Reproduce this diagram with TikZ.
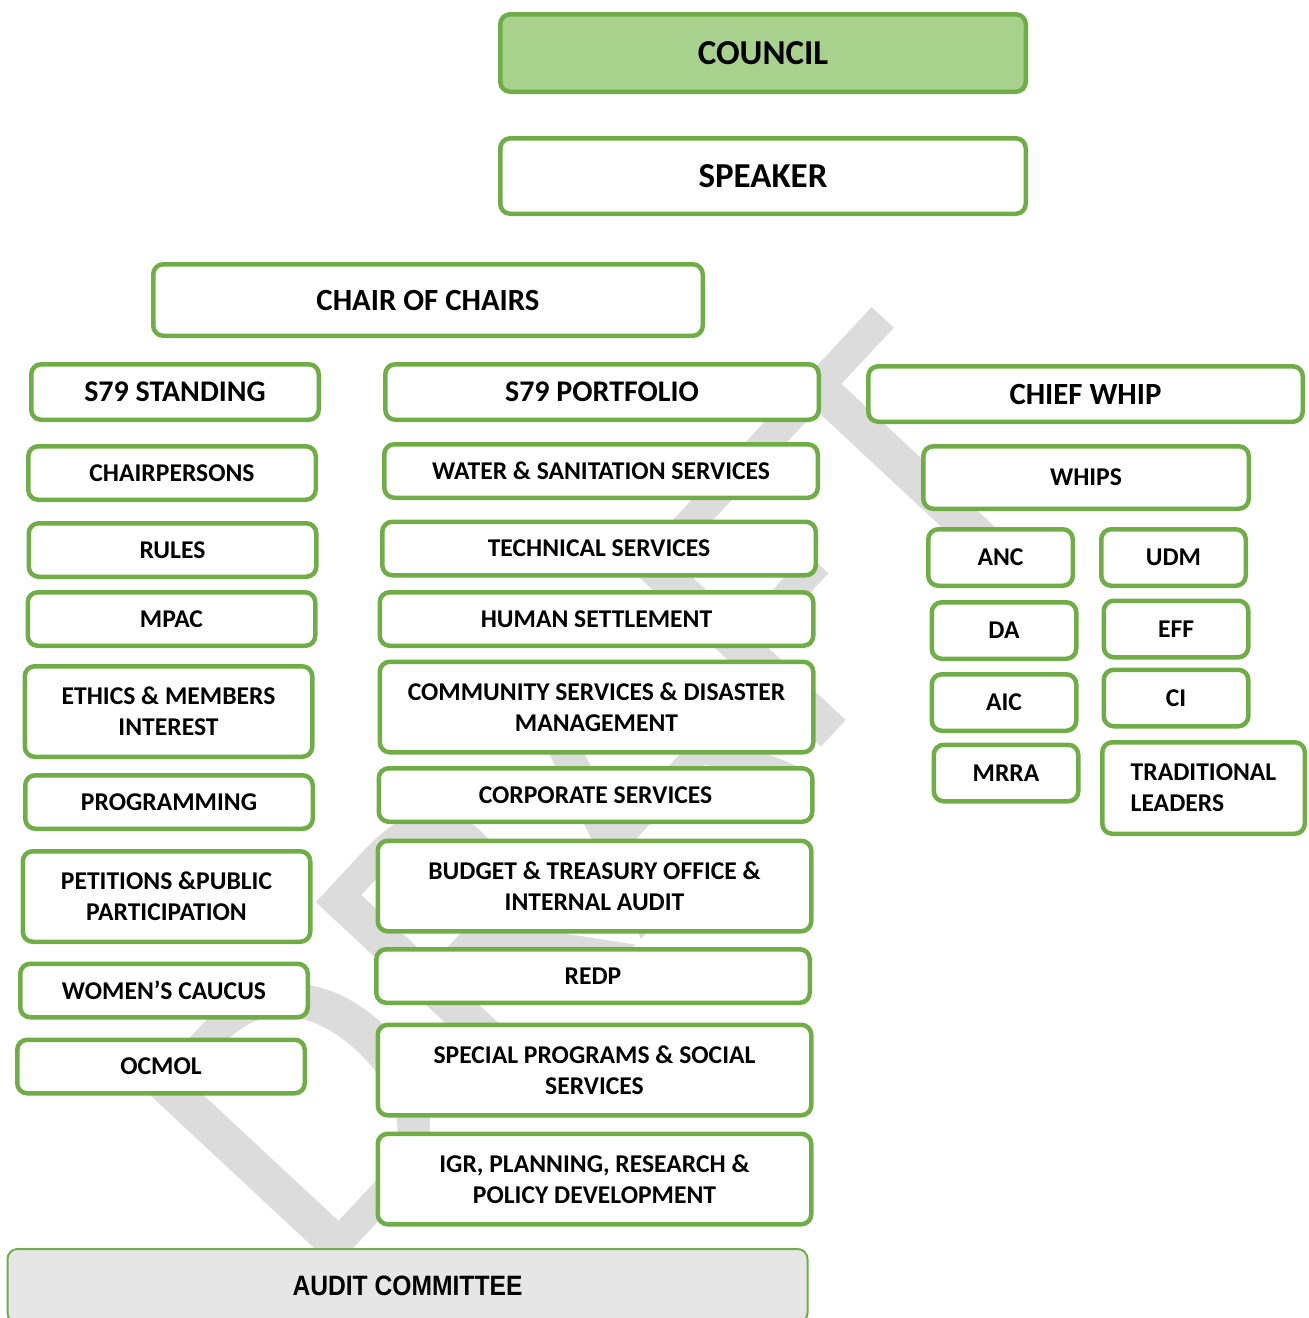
\documentclass[tikz,border=0pt]{standalone}
\usepackage{fontspec}
\setmainfont{Carlito}
\newfontfamily\auditfont[FakeStretch=0.88]{Liberation Sans}
\definecolor{boxgreen}{HTML}{70AD47}
\definecolor{councilgreen}{HTML}{A9D18E}
\definecolor{auditgrey}{HTML}{E7E6E6}
\definecolor{draftgrey}{HTML}{DCDCDC}

\begin{document}
\begin{tikzpicture}[x=0.5pt, y=-0.5pt,
  box/.style={draw=boxgreen, line width=2.25pt, rounded corners=5pt, fill=white, inner sep=0pt, align=center},
  smallbox/.style={box, minimum height=26.75pt, font=\fontsize{12.8}{15.5}\selectfont\bfseries},
  tallbox/.style={smallbox, minimum height=45.25pt},
  leftbox/.style={minimum width=143.75pt},
  midbox/.style={minimum width=216.75pt},
  partybox/.style={smallbox, minimum width=72.25pt, minimum height=28.25pt},
  headbox/.style={box, minimum height=27.75pt, font=\fontsize{15}{18}\selectfont\bfseries},
  topbox/.style={box, minimum width=262.75pt, font=\fontsize{17.5}{21}\selectfont\bfseries}]
  \useasboundingbox (0,0) rectangle (1308,1318);

  % watermark
  \node[text=draftgrey, rotate=47, inner sep=0pt, font=\fontsize{205}{205}\selectfont] (draft) at (596,796) {DRAFT};

  % top
  \node[topbox, fill=councilgreen, minimum height=38.75pt] (council) at (763,53) {COUNCIL};
  \node[topbox, minimum height=37.75pt] (speaker) at (763,176) {SPEAKER};
  \node[box, minimum width=274.75pt, minimum height=35.75pt, font=\fontsize{15.4}{18}\selectfont\bfseries] (chairs) at (428,300) {CHAIR OF CHAIRS};

  % column heads
  \node[headbox, leftbox] (standing) at (175,392) {S79 STANDING};
  \node[headbox, midbox] (portfolio) at (602,392) {S79 PORTFOLIO};
  \node[headbox, minimum width=217.25pt, font=\fontsize{15.4}{18}\selectfont\bfseries] (chiefwhip) at (1085.5,394) {CHIEF WHIP};

  % S79 standing
  \node[smallbox, leftbox] (chairpersons) at (172,473) {CHAIRPERSONS};
  \node[smallbox, leftbox] (rules) at (172.5,550) {RULES};
  \node[smallbox, leftbox] (mpac) at (171.5,619) {MPAC};
  \node[tallbox, leftbox] (ethics) at (168.5,711.5) {ETHICS \& MEMBERS\\INTEREST};
  \node[smallbox, leftbox] (programming) at (169,802) {PROGRAMMING};
  \node[tallbox, leftbox] (petitions) at (166.5,896.5) {PETITIONS \&PUBLIC\\PARTICIPATION};
  \node[smallbox, leftbox] (womens) at (164,990.5) {WOMEN’S CAUCUS};
  \node[smallbox, leftbox] (ocmol) at (161,1066.5) {OCMOL};

  % S79 portfolio
  \node[smallbox, midbox] (water) at (601,471) {WATER \& SANITATION SERVICES};
  \node[smallbox, midbox] (technical) at (599,548.5) {TECHNICAL SERVICES};
  \node[smallbox, midbox] (human) at (596.5,619) {HUMAN SETTLEMENT};
  \node[tallbox, midbox] (community) at (596.5,707) {COMMUNITY SERVICES \& DISASTER\\MANAGEMENT};
  \node[smallbox, midbox] (corporate) at (595.5,795) {CORPORATE SERVICES};
  \node[tallbox, midbox] (budget) at (594.5,886) {BUDGET \& TREASURY OFFICE \&\\INTERNAL AUDIT};
  \node[smallbox, midbox] (redp) at (593,976) {REDP};
  \node[tallbox, midbox] (special) at (594.5,1070) {SPECIAL PROGRAMS \& SOCIAL\\SERVICES};
  \node[tallbox, midbox] (igr) at (594.5,1179) {IGR, PLANNING, RESEARCH \&\\POLICY DEVELOPMENT};

  % whips
  \node[smallbox, minimum width=162.75pt, minimum height=31.25pt] (whips) at (1086,477.5) {WHIPS};
  \node[partybox] (anc) at (1000.5,557.5) {ANC};
  \node[partybox] (udm) at (1173.5,557.5) {UDM};
  \node[partybox] (da) at (1004,630.5) {DA};
  \node[partybox] (eff) at (1176,629) {EFF};
  \node[partybox] (aic) at (1004,702.5) {AIC};
  \node[partybox] (ci) at (1176,698) {CI};
  \node[partybox] (mrra) at (1006,773) {MRRA};
  \node[tallbox, align=left, minimum width=101.25pt, minimum height=45.75pt] (traditional) at (1203.5,788) {TRADITIONAL\\LEADERS};

  % audit
  \node[box, fill=auditgrey, line width=1pt, minimum width=400pt, minimum height=37pt, font=\auditfont\fontsize{14}{17}\selectfont\bfseries] (audit) at (407.5,1286) {AUDIT COMMITTEE};
\end{tikzpicture}
\end{document}
